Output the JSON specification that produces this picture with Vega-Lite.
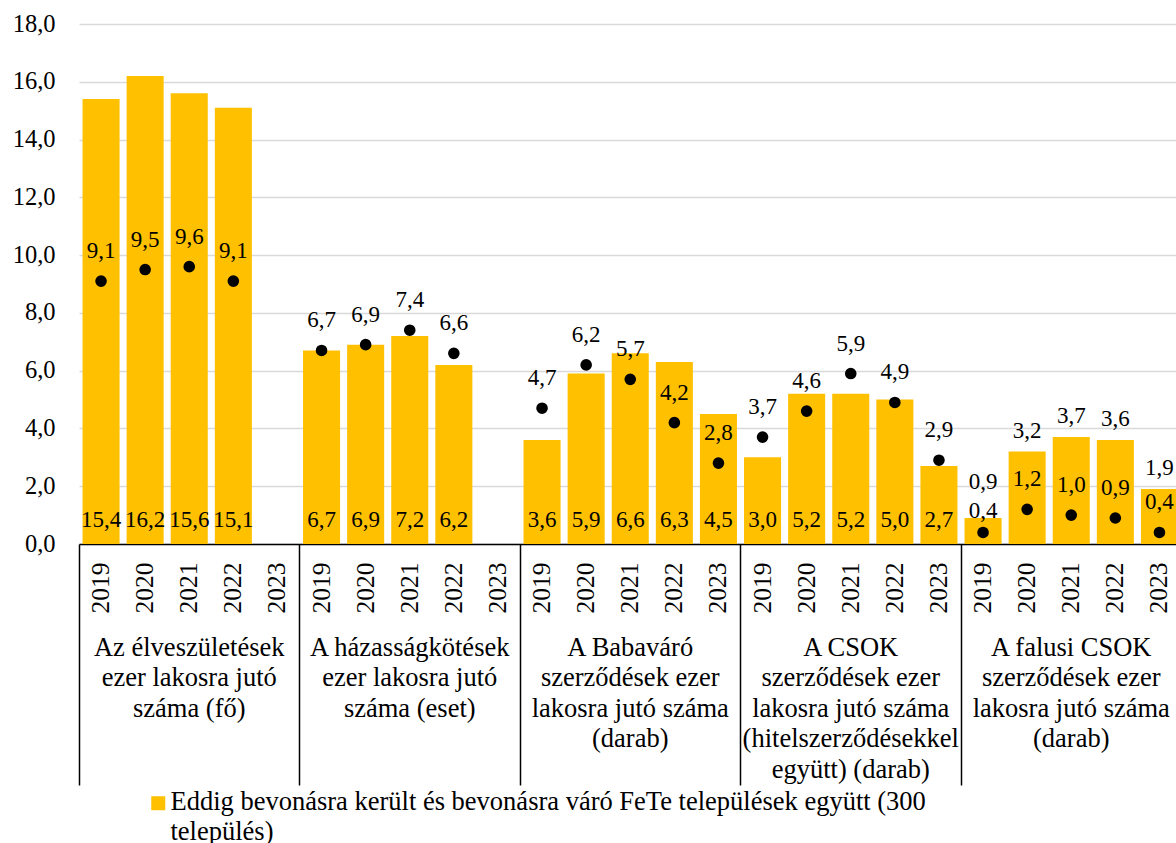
{
  "$schema": "https://vega.github.io/schema/vega-lite/v6.json",
  "width": 1097,
  "height": 520,
  "autosize": {"type": "none"},
  "padding": {"left": 79, "top": 24, "right": 0, "bottom": 299},
  "config": {
    "locale": {"number": {"decimal": ",", "thousands": " ", "grouping": [3], "currency": ["", ""]}},
    "font": "'Liberation Serif', 'Times New Roman', 'DejaVu Serif', serif",
    "view": {"stroke": null},
    "axis": {"labelFont": "'Liberation Serif', 'Times New Roman', 'DejaVu Serif', serif", "labelColor": "#000000", "labelFontSize": 25.5, "title": null, "grid": false}
  },
  "data": {
    "values": [
      {"g": 1, "k": "1-2019", "year": "2019", "grp": "Az élveszületések\nezer lakosra jutó\nszáma (fő)", "bar": 15.4, "dot": 9.1},
      {"g": 1, "k": "1-2020", "year": "2020", "grp": "Az élveszületések\nezer lakosra jutó\nszáma (fő)", "bar": 16.2, "dot": 9.5},
      {"g": 1, "k": "1-2021", "year": "2021", "grp": "Az élveszületések\nezer lakosra jutó\nszáma (fő)", "bar": 15.6, "dot": 9.6},
      {"g": 1, "k": "1-2022", "year": "2022", "grp": "Az élveszületések\nezer lakosra jutó\nszáma (fő)", "bar": 15.1, "dot": 9.1},
      {"g": 2, "k": "2-2019", "year": "2019", "grp": "A házasságkötések\nezer lakosra jutó\nszáma (eset)", "bar": 6.7, "dot": 6.7},
      {"g": 2, "k": "2-2020", "year": "2020", "grp": "A házasságkötések\nezer lakosra jutó\nszáma (eset)", "bar": 6.9, "dot": 6.9},
      {"g": 2, "k": "2-2021", "year": "2021", "grp": "A házasságkötések\nezer lakosra jutó\nszáma (eset)", "bar": 7.2, "dot": 7.4},
      {"g": 2, "k": "2-2022", "year": "2022", "grp": "A házasságkötések\nezer lakosra jutó\nszáma (eset)", "bar": 6.2, "dot": 6.6},
      {"g": 3, "k": "3-2019", "year": "2019", "grp": "A Babaváró\nszerződések ezer\nlakosra jutó száma\n(darab)", "bar": 3.6, "dot": 4.7},
      {"g": 3, "k": "3-2020", "year": "2020", "grp": "A Babaváró\nszerződések ezer\nlakosra jutó száma\n(darab)", "bar": 5.9, "dot": 6.2},
      {"g": 3, "k": "3-2021", "year": "2021", "grp": "A Babaváró\nszerződések ezer\nlakosra jutó száma\n(darab)", "bar": 6.6, "dot": 5.7},
      {"g": 3, "k": "3-2022", "year": "2022", "grp": "A Babaváró\nszerződések ezer\nlakosra jutó száma\n(darab)", "bar": 6.3, "dot": 4.2},
      {"g": 3, "k": "3-2023", "year": "2023", "grp": "A Babaváró\nszerződések ezer\nlakosra jutó száma\n(darab)", "bar": 4.5, "dot": 2.8},
      {"g": 4, "k": "4-2019", "year": "2019", "grp": "A CSOK\nszerződések ezer\nlakosra jutó száma\n(hitelszerződésekkel\negyütt) (darab)", "bar": 3.0, "dot": 3.7},
      {"g": 4, "k": "4-2020", "year": "2020", "grp": "A CSOK\nszerződések ezer\nlakosra jutó száma\n(hitelszerződésekkel\negyütt) (darab)", "bar": 5.2, "dot": 4.6},
      {"g": 4, "k": "4-2021", "year": "2021", "grp": "A CSOK\nszerződések ezer\nlakosra jutó száma\n(hitelszerződésekkel\negyütt) (darab)", "bar": 5.2, "dot": 5.9},
      {"g": 4, "k": "4-2022", "year": "2022", "grp": "A CSOK\nszerződések ezer\nlakosra jutó száma\n(hitelszerződésekkel\negyütt) (darab)", "bar": 5.0, "dot": 4.9},
      {"g": 4, "k": "4-2023", "year": "2023", "grp": "A CSOK\nszerződések ezer\nlakosra jutó száma\n(hitelszerződésekkel\negyütt) (darab)", "bar": 2.7, "dot": 2.9},
      {"g": 5, "k": "5-2019", "year": "2019", "grp": "A falusi CSOK\nszerződések ezer\nlakosra jutó száma\n(darab)", "bar": 0.9, "dot": 0.4},
      {"g": 5, "k": "5-2020", "year": "2020", "grp": "A falusi CSOK\nszerződések ezer\nlakosra jutó száma\n(darab)", "bar": 3.2, "dot": 1.2},
      {"g": 5, "k": "5-2021", "year": "2021", "grp": "A falusi CSOK\nszerződések ezer\nlakosra jutó száma\n(darab)", "bar": 3.7, "dot": 1.0},
      {"g": 5, "k": "5-2022", "year": "2022", "grp": "A falusi CSOK\nszerződések ezer\nlakosra jutó száma\n(darab)", "bar": 3.6, "dot": 0.9},
      {"g": 5, "k": "5-2023", "year": "2023", "grp": "A falusi CSOK\nszerződések ezer\nlakosra jutó száma\n(darab)", "bar": 1.9, "dot": 0.4}
    ]
  },
  "layer": [
    {
      "encoding": {
        "x": {
          "field": "k",
          "type": "nominal",
          "scale": {
            "type": "band",
            "domain": ["1-2019","1-2020","1-2021","1-2022","1-2023","2-2019","2-2020","2-2021","2-2022","2-2023","3-2019","3-2020","3-2021","3-2022","3-2023","4-2019","4-2020","4-2021","4-2022","4-2023","5-2019","5-2020","5-2021","5-2022","5-2023"],
            "range": [0, 1102.5],
            "paddingInner": 0,
            "paddingOuter": 0
          },
          "axis": {
            "labelExpr": "split(datum.value, '-')[1]",
            "labelAngle": -90,
            "labelPadding": 18,
            "labelFont": "'Liberation Serif', 'Times New Roman', 'DejaVu Serif', serif",
            "labelFontSize": 25.5,
            "ticks": false,
            "domain": true,
            "domainColor": "#000000",
            "domainWidth": 1.5,
            "labelOverlap": false
          }
        }
      },
      "layer": [
        {
          "mark": {"type": "bar", "width": {"band": 0.84}},
          "encoding": {
            "y": {
              "field": "bar",
              "type": "quantitative",
              "scale": {"domain": [0, 18], "nice": false},
              "axis": {
                "values": [0, 2, 4, 6, 8, 10, 12, 14, 16, 18],
                "format": ".1f",
                "grid": true,
                "gridColor": "#d9d9d9",
                "gridWidth": 1.5,
                "domain": false,
                "ticks": false,
                "labelPadding": 24,
                "labelFont": "'Liberation Serif', 'Times New Roman', 'DejaVu Serif', serif",
                "labelFontSize": 24.5,
                "title": null
              }
            },
            "color": {
              "datum": "Eddig bevonásra került és bevonásra váró FeTe települések együtt (300\ntelepülés)",
              "scale": {"range": ["#FFC000"]},
              "legend": {
                "title": null,
                "orient": "none",
                "legendX": 66,
                "legendY": 766,
                "padding": 0,
                "symbolType": "square",
                "symbolSize": 196,
                "symbolStrokeWidth": 0,
                "labelFont": "'Liberation Serif', 'Times New Roman', 'DejaVu Serif', serif",
                "labelFontSize": 26.5,
                "labelColor": "#000000",
                "labelLimit": 0,
                "labelOffset": -1,
                "labelExpr": "split(datum.label, '\\n')",
                "labelBaseline": "top",
                "encode": {"labels": {"update": {"lineHeight": {"value": 30}, "dy": {"value": -14}}}}
              }
            }
          }
        },
        {
          "mark": {"type": "point", "shape": "circle", "filled": true, "size": 135, "color": "#000000", "opacity": 1},
          "encoding": {"y": {"field": "dot", "type": "quantitative"}}
        },
        {
          "transform": [{"filter": "datum.g != 5"}],
          "mark": {"type": "text", "baseline": "middle", "dy": -24, "font": "'Liberation Serif', 'Times New Roman', 'DejaVu Serif', serif", "fontSize": 23, "color": "#000000"},
          "encoding": {"y": {"datum": 0}, "text": {"field": "bar", "type": "quantitative", "format": ".1f"}}
        },
        {
          "transform": [{"filter": "datum.g == 5 && datum.year != '2019'"}],
          "mark": {"type": "text", "baseline": "middle", "dy": -21, "font": "'Liberation Serif', 'Times New Roman', 'DejaVu Serif', serif", "fontSize": 23, "color": "#000000"},
          "encoding": {"y": {"field": "bar", "type": "quantitative"}, "text": {"field": "bar", "type": "quantitative", "format": ".1f"}}
        },
        {
          "transform": [{"filter": "datum.g == 5 && datum.year == '2019'"}],
          "mark": {"type": "text", "baseline": "middle", "dy": -36, "font": "'Liberation Serif', 'Times New Roman', 'DejaVu Serif', serif", "fontSize": 23, "color": "#000000"},
          "encoding": {"y": {"field": "bar", "type": "quantitative"}, "text": {"field": "bar", "type": "quantitative", "format": ".1f"}}
        },
        {
          "transform": [{"filter": "!(datum.g == 5 && datum.year == '2019')"}],
          "mark": {"type": "text", "baseline": "middle", "dy": -30, "font": "'Liberation Serif', 'Times New Roman', 'DejaVu Serif', serif", "fontSize": 23, "color": "#000000"},
          "encoding": {"y": {"field": "dot", "type": "quantitative"}, "text": {"field": "dot", "type": "quantitative", "format": ".1f"}}
        },
        {
          "transform": [{"filter": "datum.g == 5 && datum.year == '2019'"}],
          "mark": {"type": "text", "baseline": "middle", "dy": -21, "font": "'Liberation Serif', 'Times New Roman', 'DejaVu Serif', serif", "fontSize": 23, "color": "#000000"},
          "encoding": {"y": {"field": "dot", "type": "quantitative"}, "text": {"field": "dot", "type": "quantitative", "format": ".1f"}}
        }
      ]
    },
    {
      "mark": {"type": "text", "text": ""},
      "encoding": {
        "x": {
          "field": "grp",
          "type": "nominal",
          "scale": {
            "type": "band",
            "domain": ["Az élveszületések\nezer lakosra jutó\nszáma (fő)", "A házasságkötések\nezer lakosra jutó\nszáma (eset)", "A Babaváró\nszerződések ezer\nlakosra jutó száma\n(darab)", "A CSOK\nszerződések ezer\nlakosra jutó száma\n(hitelszerződésekkel\negyütt) (darab)", "A falusi CSOK\nszerződések ezer\nlakosra jutó száma\n(darab)"],
            "range": [0, 1102.5],
            "paddingInner": 0,
            "paddingOuter": 0
          },
          "axis": {
            "orient": "bottom",
            "domain": false,
            "ticks": true,
            "bandPosition": 0,
            "tickSize": 241,
            "tickColor": "#000000",
            "tickWidth": 1.5,
            "labelExpr": "split(datum.value, '\\n')",
            "labelAngle": 0,
            "labelFont": "'Liberation Serif', 'Times New Roman', 'DejaVu Serif', serif",
            "labelFontSize": 26.5,
            "labelLineHeight": 30.5,
            "labelPadding": -151,
            "labelLimit": 0,
            "labelOverlap": false,
            "labelBaseline": "top",
            "labelAlign": "center"
          }
        }
      }
    }
  ],
  "resolve": {"scale": {"x": "independent"}}
}
